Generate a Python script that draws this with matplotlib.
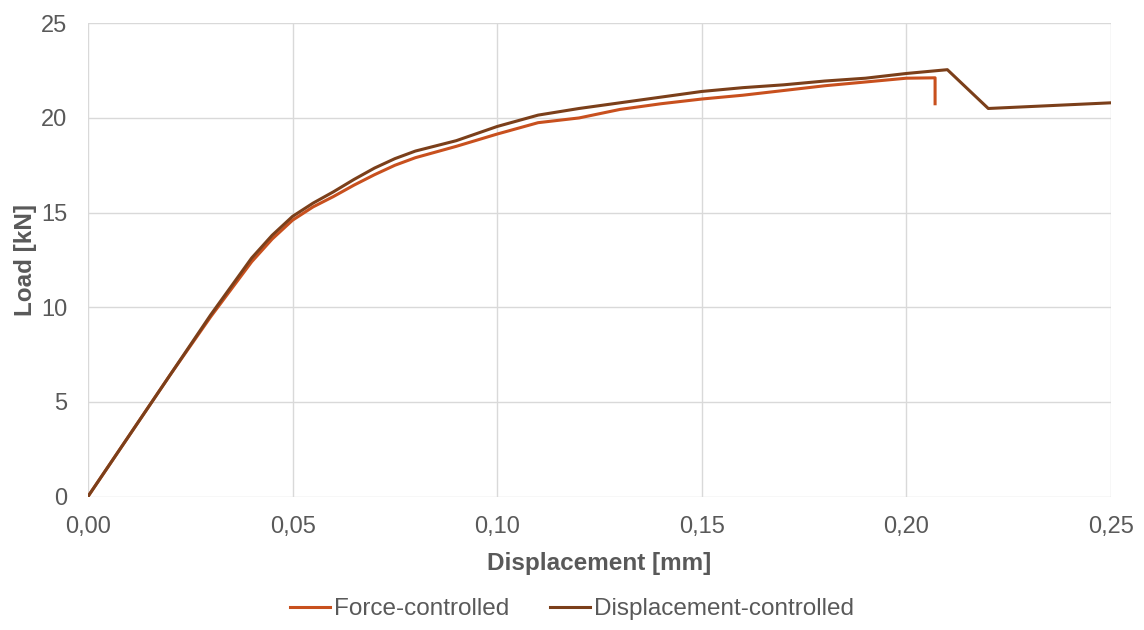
import matplotlib
matplotlib.use("Agg")
import matplotlib.pyplot as plt
from matplotlib.ticker import FuncFormatter, MultipleLocator

plt.rcParams['font.family'] = ['Liberation Sans', 'DejaVu Sans']

# Load-displacement data
disp_force_ctrl = [0.0, 0.01, 0.02, 0.03, 0.04, 0.045, 0.05, 0.055, 0.06, 0.065, 0.07, 0.075,
                   0.08, 0.09, 0.10, 0.11, 0.12, 0.13, 0.14, 0.15, 0.16, 0.17, 0.18, 0.19,
                   0.20, 0.207, 0.207]
load_force_ctrl = [0.0, 3.2, 6.4, 9.5, 12.4, 13.6, 14.6, 15.3, 15.85, 16.45, 17.0, 17.5,
                   17.9, 18.5, 19.15, 19.75, 20.0, 20.45, 20.75, 21.0, 21.2, 21.45, 21.7, 21.9,
                   22.1, 22.12, 20.75]

disp_disp_ctrl = [0.0, 0.01, 0.02, 0.03, 0.04, 0.045, 0.05, 0.055, 0.06, 0.065, 0.07, 0.075,
                  0.08, 0.09, 0.10, 0.11, 0.12, 0.13, 0.14, 0.15, 0.16, 0.17, 0.18, 0.19,
                  0.20, 0.21, 0.22, 0.25]
load_disp_ctrl = [0.0, 3.2, 6.4, 9.6, 12.6, 13.8, 14.8, 15.5, 16.1, 16.75, 17.35, 17.85,
                  18.25, 18.8, 19.55, 20.15, 20.5, 20.8, 21.1, 21.4, 21.6, 21.75, 21.95, 22.1,
                  22.35, 22.55, 20.5, 20.8]

series_labels = ["Force-controlled", "Displacement-controlled"]
series_colors = ["#C8501E", "#7B3F1A"]
text_grey = "#595959"

fig = plt.figure(figsize=(11.44, 6.30), dpi=100)
ax = fig.add_axes([0.0769, 0.2119, 0.8943, 0.7511])

ax.plot(disp_force_ctrl, load_force_ctrl, color=series_colors[0], lw=2.2,
        label=series_labels[0], zorder=3, solid_joinstyle='round')
ax.plot(disp_disp_ctrl, load_disp_ctrl, color=series_colors[1], lw=2.2,
        label=series_labels[1], zorder=4, solid_joinstyle='round')

ax.set_xlim(0, 0.25)
ax.set_ylim(0, 25)
ax.xaxis.set_major_locator(MultipleLocator(0.05))
ax.yaxis.set_major_locator(MultipleLocator(5))
ax.xaxis.set_major_formatter(FuncFormatter(lambda v, p: f"{v:.2f}".replace('.', ',')))
ax.yaxis.set_major_formatter(FuncFormatter(lambda v, p: f"{v:.0f}"))

for s in ax.spines.values():
    s.set_visible(False)
ax.grid(True, color="#D9D9D9", lw=1.0, zorder=0)
ax.set_axisbelow(True)
ax.tick_params(length=0, labelsize=17, labelcolor=text_grey)
ax.tick_params(axis='x', pad=14)
ax.tick_params(axis='y', pad=15)

ax.set_xlabel("Displacement [mm]", fontsize=17.5, fontweight='bold', color=text_grey, labelpad=10)
ax.set_ylabel("Load [kN]", fontsize=17.5, fontweight='bold', color=text_grey, labelpad=3)

leg = fig.legend(loc='center', bbox_to_anchor=(0.5, 0.033), ncol=2, frameon=False,
                 fontsize=17.5, handlelength=1.65, handletextpad=0.18, columnspacing=1.65)
for t in leg.get_texts():
    t.set_color(text_grey)

fig.savefig("out.png", dpi=100)
